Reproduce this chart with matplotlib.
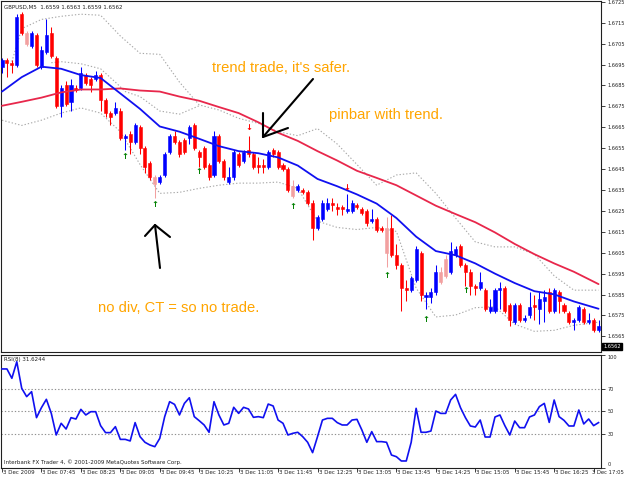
import matplotlib
matplotlib.use('Agg')
import matplotlib.pyplot as plt
import matplotlib.transforms as mtransforms
from matplotlib.lines import Line2D

# ---------------- data ----------------
header_text = "GBPUSD,M5  1.6559 1.6563 1.6559 1.6562"
last_price_label = "1.6562"
last_price = 1.6562

opens = [1.6694, 1.6697, 1.6696, 1.6695, 1.6719, 1.6710, 1.6704, 1.6709, 1.6694, 1.6701,
         1.6710, 1.6698, 1.6675, 1.6685, 1.6677, 1.6684, 1.6684, 1.6690, 1.6688, 1.6688,
         1.6690, 1.6678, 1.6672, 1.6672, 1.6673, 1.6660, 1.6662, 1.6658, 1.6665, 1.6655,
         1.6648, 1.6641, 1.6639, 1.6642, 1.6653, 1.6661, 1.6658, 1.6659, 1.6660, 1.6666,
         1.6653, 1.6655, 1.6647, 1.6642, 1.6661, 1.6649, 1.6639, 1.6641, 1.6652, 1.6649,
         1.6654, 1.6652, 1.6647, 1.6647, 1.6646, 1.6654, 1.6653, 1.6647, 1.6645, 1.6637,
         1.6635, 1.6635, 1.6634, 1.6629, 1.6617, 1.6621, 1.6626, 1.6629, 1.6627, 1.6627,
         1.6625, 1.6625, 1.6628, 1.6626, 1.6625, 1.6620, 1.6621, 1.6617, 1.6617, 1.6617,
         1.6604, 1.6599, 1.6588, 1.6587, 1.6592, 1.6605, 1.6584, 1.6584, 1.6586, 1.6596,
         1.6602, 1.6596, 1.6604, 1.6608, 1.6599, 1.6596, 1.6589, 1.6588, 1.6587, 1.6577,
         1.6577, 1.6587, 1.6588, 1.6580, 1.6572, 1.6580, 1.6573, 1.6575, 1.6580, 1.6578,
         1.6582, 1.6586, 1.6577, 1.6586, 1.6580, 1.6576, 1.6572, 1.6573, 1.6578, 1.6572,
         1.6573, 1.6568]
highs = [1.6698, 1.6698, 1.6697, 1.6719, 1.6720, 1.6711, 1.6711, 1.6710, 1.6704, 1.6717,
         1.6713, 1.6699, 1.6685, 1.6687, 1.6688, 1.6685, 1.6694, 1.6691, 1.6689, 1.6692,
         1.6691, 1.6679, 1.6673, 1.6677, 1.6674, 1.6662, 1.6663, 1.6667, 1.6666, 1.6656,
         1.6649, 1.6642, 1.6642, 1.6653, 1.6662, 1.6663, 1.6659, 1.6660, 1.6666, 1.6667,
         1.6654, 1.6656, 1.6648, 1.6663, 1.6662, 1.6650, 1.6646, 1.6654, 1.6653, 1.6654,
         1.6661, 1.6653, 1.6651, 1.6650, 1.6654, 1.6655, 1.6654, 1.6648, 1.6646, 1.6640,
         1.6638, 1.6636, 1.6635, 1.6630, 1.6623, 1.6630, 1.6631, 1.6631, 1.6629, 1.6628,
         1.6633, 1.6630, 1.6629, 1.6627, 1.6626, 1.6626, 1.6622, 1.6618, 1.6622, 1.6623,
         1.6609, 1.6600, 1.6592, 1.6594, 1.6608, 1.6606, 1.6586, 1.6588, 1.6599, 1.6598,
         1.6604, 1.6610, 1.6608, 1.6609, 1.6600, 1.6597, 1.6590, 1.6596, 1.6588, 1.6583,
         1.6588, 1.6591, 1.6589, 1.6581, 1.6581, 1.6581, 1.6575, 1.6586, 1.6585, 1.6586,
         1.6587, 1.6588, 1.6588, 1.6587, 1.6581, 1.6577, 1.6574, 1.6580, 1.6579, 1.6576,
         1.6574, 1.6573]
lows = [1.6691, 1.6689, 1.6691, 1.6694, 1.6709, 1.6704, 1.6703, 1.6694, 1.6693, 1.6700,
        1.6698, 1.6674, 1.6670, 1.6675, 1.6673, 1.6682, 1.6683, 1.6685, 1.6682, 1.6687,
        1.6673, 1.6670, 1.6666, 1.6671, 1.6659, 1.6654, 1.6652, 1.6657, 1.6652, 1.6643,
        1.6640, 1.6631, 1.6638, 1.6641, 1.6652, 1.6657, 1.6651, 1.6652, 1.6657, 1.6654,
        1.6646, 1.6645, 1.6640, 1.6641, 1.6648, 1.6640, 1.6638, 1.6640, 1.6646, 1.6648,
        1.6651, 1.6645, 1.6643, 1.6643, 1.6645, 1.6651, 1.6645, 1.6644, 1.6634, 1.6631,
        1.6634, 1.6633, 1.6628, 1.6611, 1.6616, 1.6620, 1.6625, 1.6625, 1.6623, 1.6623,
        1.6624, 1.6624, 1.6626, 1.6623, 1.6618, 1.6619, 1.6615, 1.6615, 1.6598, 1.6603,
        1.6597, 1.6577, 1.6582, 1.6586, 1.6591, 1.6582, 1.6578, 1.6581, 1.6585, 1.6590,
        1.6593, 1.6595, 1.6603, 1.6598, 1.6589, 1.6585, 1.6585, 1.6587, 1.6577, 1.6576,
        1.6576, 1.6578, 1.6576, 1.6570, 1.6571, 1.6572, 1.6572, 1.6574, 1.6573, 1.6571,
        1.6572, 1.6576, 1.6576, 1.6576, 1.6576, 1.6571, 1.6568, 1.6572, 1.6571, 1.6571,
        1.6567, 1.6567]
closes = [1.6697, 1.6696, 1.6695, 1.6718, 1.6710, 1.6705, 1.6710, 1.6695, 1.6702, 1.6709,
          1.6699, 1.6675, 1.6684, 1.6676, 1.6685, 1.6683, 1.6691, 1.6686, 1.6685, 1.6690,
          1.6678, 1.6672, 1.6670, 1.6674, 1.6660, 1.6661, 1.6658, 1.6666, 1.6655, 1.6646,
          1.6641, 1.6638, 1.6641, 1.6652, 1.6661, 1.6658, 1.6652, 1.6653, 1.6665, 1.6655,
          1.6651, 1.6646, 1.6641, 1.6661, 1.6649, 1.6641, 1.6641, 1.6653, 1.6647, 1.6653,
          1.6652, 1.6646, 1.6646, 1.6646, 1.6653, 1.6652, 1.6646, 1.6645, 1.6635, 1.6632,
          1.6637, 1.6634, 1.6629, 1.6617, 1.6622, 1.6629, 1.6629, 1.6628, 1.6626, 1.6626,
          1.6626, 1.6629, 1.6627, 1.6624, 1.6619, 1.6621, 1.6616, 1.6616, 1.6605, 1.6604,
          1.6599, 1.6588, 1.6587, 1.6593, 1.6607, 1.6585, 1.6585, 1.6586, 1.6596, 1.6591,
          1.6594, 1.6606, 1.6607, 1.6599, 1.6596, 1.6589, 1.6588, 1.6591, 1.6578, 1.6579,
          1.6587, 1.6588, 1.6577, 1.6573, 1.6580, 1.6573, 1.6574, 1.6579, 1.6579, 1.6583,
          1.6584, 1.6577, 1.6587, 1.6582, 1.6577, 1.6572, 1.6573, 1.6579, 1.6572, 1.6573,
          1.6568, 1.6570]
faded_bars = [5, 31, 59, 78, 89, 90]

ma_bars = [0, 4, 8, 12, 16, 20, 24, 28, 32, 36, 40, 44, 48, 52, 56, 60, 64, 68, 72, 76,
           80, 84, 88, 92, 96, 100, 104, 108, 112, 116, 121]
ma_fast = [1.66821, 1.66890, 1.66940, 1.66930, 1.66900, 1.66886, 1.66812, 1.66738, 1.66654, 1.66629,
           1.66595, 1.66560, 1.66536, 1.66526, 1.66506, 1.66467, 1.66403, 1.66368, 1.66329, 1.66285,
           1.66216, 1.66127, 1.66058, 1.66038, 1.65999, 1.65950, 1.65905, 1.65866, 1.65851, 1.65817,
           1.65782]
ma_slow = [1.66753, 1.66772, 1.66792, 1.66817, 1.66831, 1.66831, 1.66836, 1.66826, 1.66821, 1.66797,
           1.66777, 1.66747, 1.66718, 1.66674, 1.66624, 1.66585, 1.66536, 1.66491, 1.66442, 1.66408,
           1.66373, 1.66324, 1.66275, 1.66235, 1.66196, 1.66147, 1.66092, 1.66043, 1.65999, 1.65959,
           1.65900]
band_upper_bars = [2, 4, 8, 12, 16, 20, 24, 28, 32, 36, 40, 44, 48, 52, 56, 60, 64, 68, 72, 76,
                   80, 84, 88, 92, 96, 100, 104, 108, 112, 116, 121]
band_upper = [1.66964, 1.67122, 1.67166, 1.67181, 1.67191, 1.67186, 1.67087, 1.67004, 1.66999, 1.66866,
              1.66757, 1.66733, 1.66693, 1.66669, 1.66629, 1.66610, 1.66644, 1.66570, 1.66472, 1.66373,
              1.66422, 1.66432, 1.66334, 1.66216, 1.66102, 1.66078, 1.66078, 1.66043, 1.65940, 1.65871,
              1.65871]
band_lower = [1.66684, 1.66659, 1.66684, 1.66718, 1.66743, 1.66718, 1.66629, 1.66472, 1.66334, 1.66339,
              1.66358, 1.66373, 1.66383, 1.66383, 1.66388, 1.66358, 1.66201, 1.66171, 1.66161, 1.66171,
              1.66152, 1.65881, 1.65743, 1.65752, 1.65787, 1.65792, 1.65708, 1.65674, 1.65679, 1.65703,
              1.65718]
inner_band_bars = [10, 12, 16, 20, 23, 25, 28, 32, 36, 40]
inner_band = [1.66959, 1.66964, 1.66954, 1.66930, 1.66866, 1.66821, 1.66797, 1.66728, 1.66713, 1.66753]

buy_arrow_bars = [25, 31, 40, 59, 78, 86, 94]
buy_arrow_prices = [1.6651, 1.6628, 1.6644, 1.6627, 1.6594, 1.6573, 1.6587]
sell_arrow_bars = [50, 70]
sell_arrow_prices = [1.6665, 1.6636]

rsi_values = [87.6, 87.6, 79.3, 94.0, 70.4, 63.0, 67.4, 44.3, 53.2, 60.6,
              48.1, 28.9, 39.3, 34.2, 44.3, 43.1, 51.7, 46.7, 49.6, 49.6,
              37.2, 31.0, 31.0, 36.3, 25.0, 25.0, 23.6, 39.9, 27.4, 22.4,
              20.0, 18.5, 25.9, 45.2, 58.5, 56.1, 46.7, 57.0, 62.0, 45.2,
              41.6, 37.8, 31.3, 58.5, 46.7, 37.8, 39.3, 53.5, 48.1, 53.5,
              52.0, 44.6, 45.2, 44.3, 56.4, 54.7, 42.2, 39.3, 28.9, 30.4,
              31.3, 27.4, 22.4, 13.2, 27.4, 42.2, 43.7, 43.7, 39.9, 37.8,
              37.8, 42.2, 42.8, 33.3, 22.4, 31.9, 23.0, 23.0, 22.4, 11.1,
              9.6, 5.8, 5.8, 22.4, 52.6, 31.3, 31.3, 32.4, 50.2, 48.1,
              48.1, 60.0, 65.0, 53.2, 44.3, 36.9, 36.0, 42.2, 27.1, 27.1,
              44.9, 46.7, 37.2, 28.9, 41.3, 35.4, 35.4, 44.9, 46.7, 54.1,
              57.0, 40.1, 60.0, 45.2, 41.9, 36.9, 36.9, 51.1, 38.7, 43.1,
              37.2, 39.9]
rsi_title = "RSI(8) 31.6244"
rsi_levels = [30, 50, 70]
rsi_ticks = [0, 30, 50, 70, 100]

price_ticks = [1.6565, 1.6575, 1.6585, 1.6595, 1.6605, 1.6615, 1.6625, 1.6635, 1.6645,
               1.6655, 1.6665, 1.6675, 1.6685, 1.6695, 1.6705, 1.6715, 1.6725]
time_tick_bars = [0, 8, 16, 24, 32, 40, 48, 56, 64, 72, 80, 88, 96, 104, 112, 120]
time_labels = ["3 Dec 2009", "3 Dec 07:45", "3 Dec 08:25", "3 Dec 09:05", "3 Dec 09:45",
               "3 Dec 10:25", "3 Dec 11:05", "3 Dec 11:45", "3 Dec 12:25", "3 Dec 13:05",
               "3 Dec 13:45", "3 Dec 14:25", "3 Dec 15:05", "3 Dec 15:45", "3 Dec 16:25",
               "3 Dec 17:05"]
copyright_text = "Interbank FX Trader 4, \u00a9 2001-2009 MetaQuotes Software Corp."
note_texts = ["trend trade, it's safer.", "pinbar with trend.", "no div, CT = so no trade."]

# ---------------- figure ----------------
W, H = 625, 478
fig = plt.figure(figsize=(W / 100, H / 100), dpi=100, facecolor='white')

def fx(x):
    return x / W

def fy(y):
    return 1 - y / H

X0, X1 = 1, 601
ax = fig.add_axes([fx(X0), fy(352), (X1 - X0) / W, (352 - 1) / H])
axr = fig.add_axes([fx(X0), fy(467.5), (X1 - X0) / W, (467.5 - 355) / H])

bar_px = 4.93
xl = ((X0 - 2) / bar_px, (X1 - 2) / bar_px)
for a in (ax, axr):
    a.set_xlim(*xl)
    a.set_facecolor('white')
    for s in a.spines.values():
        s.set_color('#202020')
        s.set_linewidth(0.8)

ax.set_ylim(1.655752, 1.672542)
axr.set_ylim(0, 100)

BLUE = '#0000FF'
RED = '#FF0000'
LBLUE = '#9A9AF4'
LRED = '#F2A0A0'
DOT = dict(color='#A8A8A8', lw=0.8, ls=(0, (1.2, 1.8)), zorder=1)

# bands (dotted)
ax.plot(band_upper_bars, band_upper, **DOT)
ax.plot(ma_bars, band_lower, **DOT)
ax.plot(inner_band_bars, inner_band, **DOT)

# candles
for i, (o, h, l, c) in enumerate(zip(opens, highs, lows, closes)):
    bull = c > o
    if i in faded_bars:
        col = LBLUE if bull else LRED
    else:
        col = BLUE if bull else RED
    ax.vlines(i, l, h, color=col, lw=0.75, zorder=2)
    ax.bar(i, abs(c - o), bottom=min(o, c), width=0.62, color=col,
           edgecolor=col, linewidth=0.4, zorder=3)

# moving averages
ax.plot(ma_bars, ma_slow, color='#E8274B', lw=1.3, zorder=4, solid_capstyle='round')
ax.plot(ma_bars, ma_fast, color='#1010F0', lw=1.3, zorder=4, solid_capstyle='round')

# signal arrows
for b, p in zip(buy_arrow_bars, buy_arrow_prices):
    ax.text(b, p, '\u2191', color='#008000', fontsize=6, fontweight='bold',
            ha='center', va='center', family='DejaVu Sans', zorder=5)
for b, p in zip(sell_arrow_bars, sell_arrow_prices):
    ax.text(b, p, '\u2193', color=RED, fontsize=6, fontweight='bold',
            ha='center', va='center', family='DejaVu Sans', zorder=5)

# axes ticks
ax.set_xticks([])
ax.yaxis.tick_right()
ax.set_yticks(price_ticks)
ax.set_yticklabels([f'{t:.4f}' for t in price_ticks])
ax.tick_params(axis='y', direction='out', length=3, width=0.6, labelsize=3.6, pad=1.5,
               colors='#202020')

# RSI
for lv in rsi_levels:
    axr.axhline(lv, color='#909090', lw=0.8, ls=(0, (1.2, 1.8)), zorder=1)
axr.plot(range(len(rsi_values)), rsi_values, color='#1010F0', lw=1.2, zorder=3)
axr.yaxis.tick_right()
axr.set_yticks(rsi_ticks)
axr.set_yticklabels([str(t) for t in rsi_ticks])
axr.tick_params(axis='y', direction='out', length=3, width=0.6, labelsize=3.6, pad=1.5,
                colors='#202020')
labs = axr.get_yticklabels()
labs[0].set_va('bottom')
labs[-1].set_va('top')
axr.set_xticks(time_tick_bars)
axr.set_xticklabels([''] * len(time_tick_bars))
axr.tick_params(axis='x', direction='out', length=3, width=0.6, colors='#202020')
trans = mtransforms.blended_transform_factory(axr.transData, fig.transFigure)
for b, lab in zip(time_tick_bars[:-1], time_labels[:-1]):
    axr.text(b + 0.2, fy(472), lab, transform=trans, fontsize=4, ha='left', va='center',
             color='#202020', clip_on=False)
fig.text(fx(624), fy(472), time_labels[-1], fontsize=3.8, ha='right', va='center',
         color='#202020')

# panel texts
fig.text(fx(4), fy(7), header_text, fontsize=4, ha='left', va='center', color='#202020')
fig.text(fx(4), fy(360), rsi_title, fontsize=4, ha='left', va='center', color='#202020')
fig.text(fx(4), fy(462), copyright_text, fontsize=4, ha='left', va='center', color='#202020')

# current price box
fig.text(fx(603), fy(346.5), last_price_label, fontsize=3.6, ha='left', va='center',
         color='white', bbox=dict(boxstyle='square,pad=0.25', fc='black', ec='black'))

# annotations
ORANGE = '#FFA500'
fig.text(fx(212), fy(68), note_texts[0], fontsize=10.6, color=ORANGE, ha='left', va='center',
         family='Liberation Sans')
fig.text(fx(329), fy(115), note_texts[1], fontsize=10.6, color=ORANGE, ha='left', va='center',
         family='Liberation Sans')
fig.text(fx(98), fy(308), note_texts[2], fontsize=10.6, color=ORANGE, ha='left', va='center',
         family='Liberation Sans')

def fig_line(pts):
    xs = [fx(p[0]) for p in pts]
    ys = [fy(p[1]) for p in pts]
    fig.add_artist(Line2D(xs, ys, color='black', lw=1.5, transform=fig.transFigure,
                          solid_capstyle='round', solid_joinstyle='round', zorder=10))

# arrow 1 (bottom, pointing up)
fig_line([(160, 268), (155, 225)])
fig_line([(145, 236), (155, 225), (170, 237)])
# arrow 2 (pointing down-left to pinbar)
fig_line([(313, 79), (263, 137)])
fig_line([(263, 113), (263, 137), (288, 128)])

fig.savefig('out.png', dpi=100, facecolor='white')
